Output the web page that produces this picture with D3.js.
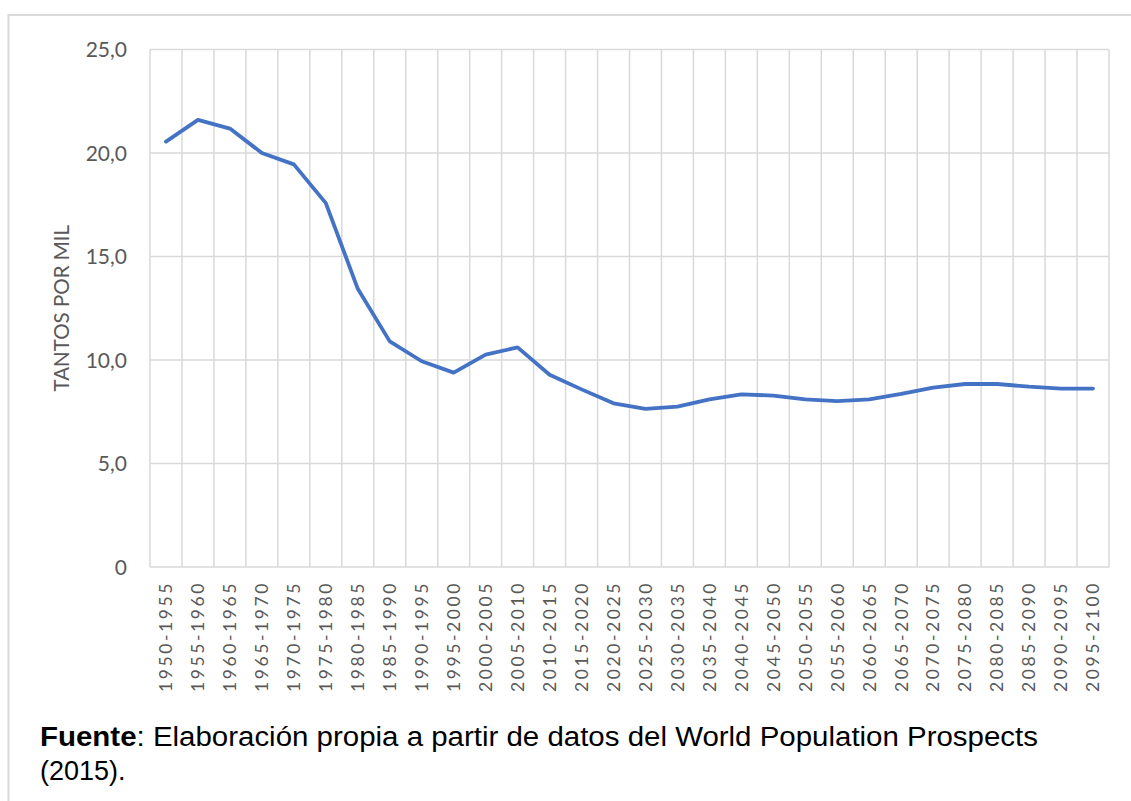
<!DOCTYPE html>
<html>
<head>
<meta charset="utf-8">
<script src="https://cdn.jsdelivr.net/npm/d3@7"></script>
<style>
  body { margin: 0; background: #fff; }
  svg { display: block; }
</style>
</head>
<body>
<div id="chart"></div>
<script>
// periods on the x axis
const periods = ["1950-1955","1955-1960","1960-1965","1965-1970","1970-1975","1975-1980",
  "1980-1985","1985-1990","1990-1995","1995-2000","2000-2005","2005-2010","2010-2015",
  "2015-2020","2020-2025","2025-2030","2030-2035","2035-2040","2040-2045","2045-2050",
  "2050-2055","2055-2060","2060-2065","2065-2070","2070-2075","2075-2080","2080-2085",
  "2085-2090","2090-2095","2095-2100"];

// tantos por mil
const rates = [20.55, 21.6, 21.18, 20.0, 19.45, 17.58, 13.44, 10.9, 9.94, 9.39, 10.26, 10.61, 9.29,
  8.58, 7.91, 7.64, 7.75, 8.1, 8.34, 8.28, 8.1, 8.01, 8.1, 8.36, 8.67, 8.84, 8.84, 8.71, 8.62, 8.62];

const yTickValues = [0, 5, 10, 15, 20, 25];
const yTickLabels = ["0", "5,0", "10,0", "15,0", "20,0", "25,0"];

const W = 1131, H = 801;
const plot = {left: 150, right: 1109, top: 49.5, bottom: 567};

const svg = d3.select("#chart")
  .append("svg")
    .attr("width", W)
    .attr("height", H);

// outer frame of the chart object
svg.append("rect")
  .attr("x", 8.5).attr("y", 15)
  .attr("width", W + 20).attr("height", H + 20)
  .attr("fill", "none")
  .attr("stroke", "#d9d9d9")
  .attr("stroke-width", 2);

const x = d3.scaleBand()
  .domain(periods)
  .range([plot.left, plot.right])
  .padding(0);

const y = d3.scaleLinear()
  .domain([0, 25])
  .range([plot.bottom, plot.top]);

// vertical gridlines at category boundaries
const bounds = periods.map(p => x(p)).concat([plot.right]);
svg.append("g")
  .selectAll("line")
  .data(bounds)
  .join("line")
    .attr("x1", d => d).attr("x2", d => d)
    .attr("y1", plot.top).attr("y2", plot.bottom)
    .attr("stroke", "#d9d9d9")
    .attr("stroke-width", 1.5);

// horizontal gridlines
svg.append("g")
  .selectAll("line")
  .data(yTickValues)
  .join("line")
    .attr("x1", plot.left).attr("x2", plot.right)
    .attr("y1", d => y(d)).attr("y2", d => y(d))
    .attr("stroke", "#d9d9d9")
    .attr("stroke-width", 1.5);

// y tick labels
svg.append("g")
  .selectAll("text")
  .data(yTickValues)
  .join("text")
    .attr("x", 127)
    .attr("y", d => y(d))
    .attr("dy", "0.36em")
    .attr("text-anchor", "end")
    .style("font-family", "Lato, 'Open Sans', sans-serif")
    .style("font-size", "21px")
    .style("fill", "#595959")
    .text((d, i) => yTickLabels[i]);

// y axis title
svg.append("text")
  .attr("transform", `translate(62, ${(plot.top + plot.bottom) / 2}) rotate(-90)`)
  .attr("text-anchor", "middle")
  .attr("dy", "0.36em")
  .style("font-family", "Lato, 'Open Sans', sans-serif")
  .style("font-size", "20.5px")
  .style("fill", "#595959")
  .text("TANTOS POR MIL");

// x tick labels, rotated
svg.append("g")
  .selectAll("text")
  .data(periods)
  .join("text")
    .attr("transform", d => `translate(${x(d) + x.bandwidth() / 2}, 581) rotate(-90)`)
    .attr("text-anchor", "end")
    .attr("dy", "0.36em")
    .style("font-family", "Lato, 'Open Sans', sans-serif")
    .style("font-size", "17.5px")
    .style("letter-spacing", "2.6px")
    .style("fill", "#595959")
    .text(d => d);

// the series line
const line = d3.line()
  .x((d, i) => x(periods[i]) + x.bandwidth() / 2)
  .y(d => y(d));

svg.append("path")
  .datum(rates)
  .attr("d", line)
  .attr("fill", "none")
  .attr("stroke", "#4472c4")
  .attr("stroke-width", 3.8)
  .attr("stroke-linejoin", "round")
  .attr("stroke-linecap", "round");

// source note (first line justified to the full width)
const note = svg.append("text")
  .attr("x", 40)
  .attr("y", 745.5)
  .attr("textLength", 998)
  .attr("lengthAdjust", "spacingAndGlyphs")
  .style("font-family", "'Liberation Sans', Arial, sans-serif")
  .style("font-size", "27px")
  .style("fill", "#000");
note.append("tspan").style("font-weight", "bold").text("Fuente");
note.append("tspan").text(": Elaboración propia a partir de datos del World Population Prospects");
svg.append("text")
  .attr("x", 40)
  .attr("y", 780)
  .style("font-family", "'Liberation Sans', Arial, sans-serif")
  .style("font-size", "27px")
  .style("fill", "#000")
  .text("(2015).");
</script>
</body>
</html>
